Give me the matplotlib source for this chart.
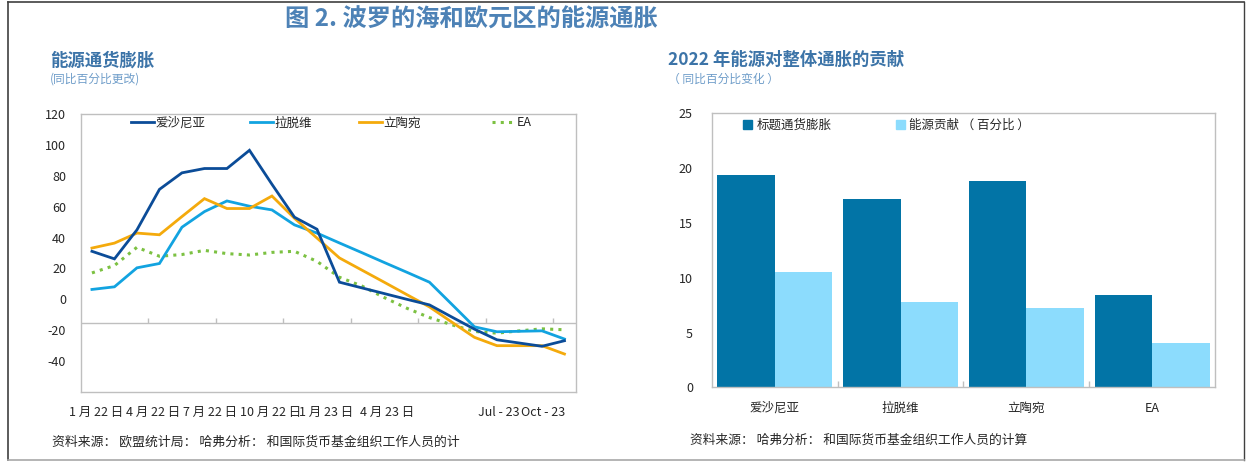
import matplotlib
matplotlib.use('Agg')
import matplotlib.pyplot as plt
from matplotlib.lines import Line2D
from matplotlib.patches import Patch
import numpy as np

plt.rcParams['font.family'] = ['Noto Sans CJK SC', 'DejaVu Sans']

W, H = 1249, 462

# ---------------- data: left chart (monthly, Jan 22 .. Oct 23) ----------------
estonia = [31.1, 26.2, 45.0, 71.2, 81.9, 84.7, 84.7, 96.5, 74.5, 53.2, 45.4,
           11.1, 7.4, 3.7, 0.0, -3.6, -11.5, -19.3, -26.2, -28.3, -30.4, -26.8]
latvia = [6.4, 8.1, 20.4, 23.2, 46.7, 56.8, 63.7, 60.3, 57.9, 48.2, 42.9,
          36.5, 30.2, 23.8, 17.5, 11.1, -3.3, -17.8, -21.0, -20.7, -20.4, -25.7]
lithuania = [33.2, 36.4, 42.9, 41.8, 53.6, 65.2, 58.8, 58.8, 66.9, 52.5, 39.7,
             26.8, 18.9, 11.0, 3.0, -4.9, -14.8, -24.6, -30.0, -30.0, -30.0, -35.4]
ea = [17.1, 21.9, 33.7, 27.9, 29.0, 31.7, 29.6, 28.7, 30.4, 31.1, 24.6,
      14.3, 8.6, 1.1, -5.8, -11.8, -16.5, -20.8, -21.9, -20.4, -19.1, -19.7]
line_series_names = ['爱沙尼亚', '拉脱维', '立陶宛', 'EA']
x_labels = ['1 月 22 日', '4 月 22 日', '7 月 22 日', '10 月 22 日',
            '1 月 23 日', '4 月 23 日', 'Jul - 23', 'Oct - 23']
x_label_pos = [0.2, 2.72, 5.26, 7.94, 10.39, 13.11, 18.1, 20.05]
left_yticks = [-40, -20, 0, 20, 40, 60, 80, 100, 120]

# ---------------- data: right chart ----------------
bar_categories = ['爱沙尼亚', '拉脱维', '立陶宛', 'EA']
headline = [19.4, 17.15, 18.8, 8.4]
energy = [10.5, 7.8, 7.2, 4.07]
bar_series_names = ['标题通货膨胀', '能源贡献 （ 百分比 ）']
right_yticks = [0, 5, 10, 15, 20, 25]

# ---------------- styles ----------------
C_EST = '#0B4C98'
C_LAT = '#12A3E0'
C_LIT = '#F4AA0C'
C_EA = '#7CC142'
C_DARK = '#0274A6'
C_LIGHT = '#8CDCFD'
C_FRAME = '#BFBFBF'
C_TXT = '#262626'
C_TITLE = '#4D82B6'
C_SUB = '#3C74A8'
C_SUB2 = '#6F9DC9'

fig = plt.figure(figsize=(W / 100, H / 100), dpi=100)


def fx(x):
    return x / W


def fy(y):
    return 1 - y / H


# ---------------- left chart ----------------
ax1 = fig.add_axes([fx(80.7), fy(392), (575.7 - 80.7) / W, (392 - 114) / H])
x = np.arange(len(estonia))
ax1.plot(x, estonia, color=C_EST, lw=2.0, zorder=4, solid_joinstyle='miter')
ax1.plot(x, latvia, color=C_LAT, lw=2.0, zorder=3, solid_joinstyle='miter')
ax1.plot(x, lithuania, color=C_LIT, lw=2.0, zorder=3, solid_joinstyle='miter')
ax1.plot(x, ea, color=C_EA, lw=2.2, linestyle=(0, (1, 1.7)),
         dash_capstyle='butt', zorder=2)
ax1.set_xlim(-0.5, len(estonia) - 0.5)
ax1.set_ylim(-60, 120)
ax1.axhline(-15, color=C_FRAME, lw=1.0, zorder=1)
ax1.vlines(np.arange(2.5, len(estonia) - 0.5, 3), -15, -12, color=C_FRAME,
           lw=1.0, zorder=1)
for s in ax1.spines.values():
    s.set_color(C_FRAME)
    s.set_linewidth(1.0)
ax1.set_yticks(left_yticks)
ax1.set_yticklabels([str(v) for v in left_yticks])
ax1.tick_params(axis='y', length=0, pad=10.5, labelsize=9, labelcolor=C_TXT)
ax1.set_xticks(x_label_pos)
ax1.set_xticklabels(x_labels)
ax1.tick_params(axis='x', length=0, pad=10, labelsize=9, labelcolor=C_TXT)

left_handles = [
    Line2D([], [], color=C_EST, lw=2.0),
    Line2D([], [], color=C_LAT, lw=2.0),
    Line2D([], [], color=C_LIT, lw=2.0),
    Line2D([], [], color=C_EA, lw=2.2, linestyle=(0, (1, 1.7)), dash_capstyle='butt'),
]
left_leg_x = [131, 250, 359, 492]
for h, lab, lx in zip(left_handles, line_series_names, left_leg_x):
    fig.legend([h], [lab], loc='center left',
               bbox_to_anchor=(fx(lx), fy(123)), frameon=False,
               borderpad=0, borderaxespad=0, handlelength=1.8,
               handletextpad=0.15, fontsize=9, labelcolor=C_TXT)

# ---------------- right chart ----------------
ax2 = fig.add_axes([fx(711.7), fy(387.3), (1215.3 - 711.7) / W, (387.3 - 113.3) / H])
xb = np.arange(len(bar_categories))
bw = 0.457
ax2.bar(xb - bw / 2, headline, bw, color=C_DARK, zorder=2)
ax2.bar(xb + bw / 2, energy, bw, color=C_LIGHT, zorder=2)
ax2.set_xlim(-0.5, len(bar_categories) - 0.5)
ax2.set_ylim(0, 25)
for s in ax2.spines.values():
    s.set_color(C_FRAME)
    s.set_linewidth(1.0)
ax2.set_xticks(xb)
ax2.set_xticklabels(bar_categories)
ax2.set_xticks(np.arange(0.5, len(bar_categories) - 0.5), minor=True)
ax2.tick_params(axis='x', which='major', length=0, pad=10.5, labelsize=9,
                labelcolor=C_TXT)
ax2.tick_params(axis='x', which='minor', direction='in', length=4,
                color=C_FRAME, width=1.0)
ax2.set_yticks(right_yticks)
ax2.set_yticklabels([str(v) for v in right_yticks])
ax2.tick_params(axis='y', length=0, pad=13.5, labelsize=9, labelcolor=C_TXT)

right_handles = [Patch(color=C_DARK), Patch(color=C_LIGHT)]
right_leg_x = [743, 896]
for h, lab, lx in zip(right_handles, bar_series_names, right_leg_x):
    fig.legend([h], [lab], loc='center left',
               bbox_to_anchor=(fx(lx), fy(125)), frameon=False,
               borderpad=0, borderaxespad=0, handlelength=0.72,
               handleheight=0.72, handletextpad=0.35, fontsize=9,
               labelcolor=C_TXT)

# ---------------- titles and notes ----------------
fig.text(fx(471), fy(20), '图 2. 波罗的海和欧元区的能源通胀', ha='center',
         va='center', fontsize=17.5, fontweight='bold', color=C_TITLE)
fig.text(fx(50), fy(60), '能源通货膨胀', ha='left', va='center',
         fontsize=12.5, fontweight='bold', color=C_SUB)
fig.text(fx(50), fy(79), '(同比百分比更改)', ha='left', va='center',
         fontsize=8.5, color=C_SUB2)
fig.text(fx(668), fy(60), '2022 年能源对整体通胀的贡献', ha='left', va='center',
         fontsize=12.5, fontweight='bold', color=C_SUB)
fig.text(fx(668), fy(79), '（ 同比百分比变化 ）', ha='left', va='center',
         fontsize=8.5, color=C_SUB2)
fig.text(fx(52), fy(442), '资料来源： 欧盟统计局： 哈弗分析： 和国际货币基金组织工作人员的计',
         ha='left', va='center', fontsize=9.25, color=C_TXT)
fig.text(fx(690), fy(440), '资料来源： 哈弗分析： 和国际货币基金组织工作人员的计算',
         ha='left', va='center', fontsize=9.15, color=C_TXT)

# ---------------- outer border ----------------
fig.add_artist(Line2D([fx(7.5), fx(7.5)], [fy(1.5), fy(460)], color='#404040',
                      lw=1.2, transform=fig.transFigure))
fig.add_artist(Line2D([fx(7.5), fx(1244)], [fy(1.5), fy(1.5)], color='#404040',
                      lw=1.2, transform=fig.transFigure))
fig.add_artist(Line2D([fx(1244), fx(1244)], [fy(1.5), fy(460)], color='#404040',
                      lw=1.0, transform=fig.transFigure))
fig.add_artist(Line2D([fx(7.5), fx(1244)], [fy(460), fy(460)], color='#A8A8A8',
                      lw=1.2, transform=fig.transFigure))

fig.savefig('out.png', dpi=100)
